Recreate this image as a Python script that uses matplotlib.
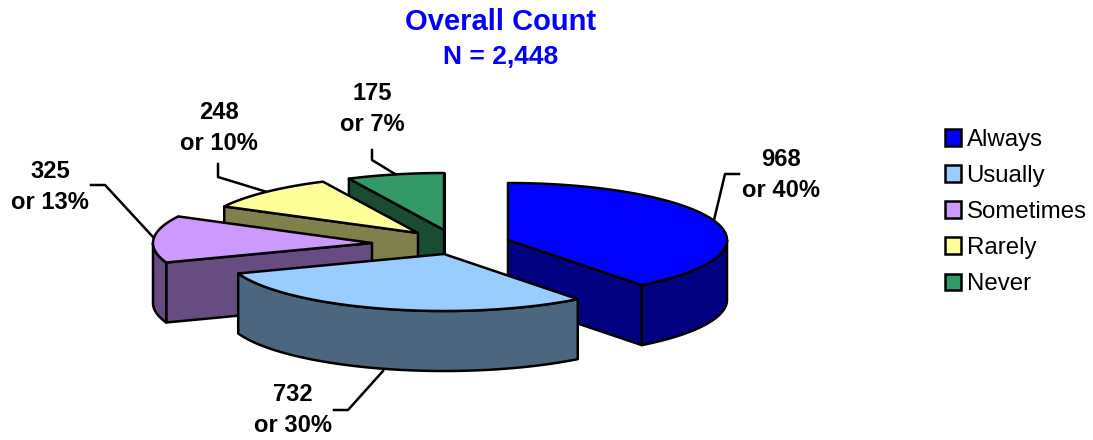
import matplotlib
matplotlib.use('Agg')
import matplotlib.pyplot as plt
from matplotlib.patches import Polygon, Patch
import numpy as np

plt.rcParams['font.family'] = ['Liberation Sans', 'DejaVu Sans']

categories = ['Always', 'Usually', 'Sometimes', 'Rarely', 'Never']
counts = [968, 732, 325, 248, 175]
percents = [40, 30, 13, 10, 7]
top_colors = ['#0000FF', '#99CCFF', '#CC99FF', '#FFFF99', '#339966']
side_colors = ['#000080', '#4D6680', '#664C80', '#80804D', '#1A4C33']

# layout in pixels: each exploded slice has its own apex
apex_x = [508, 444, 372, 418, 444]
apex_y = [240, 254, 243, 233, 230]
rx, ry = 219, 57
depth = 60
label_pos = [(781, 175), (293, 410), (50, 187), (219, 128), (372, 109)]
leaders = [
    [(714, 220), (725, 174), (739, 174)],
    [(383, 371), (348, 410), (334, 410)],
    [(153, 237), (105, 185), (91, 185)],
    [(267, 192), (218, 177), (218, 164)],
    [(395, 174), (372, 160), (372, 150)],
]

fig = plt.figure(figsize=(10.93, 4.4), dpi=100)
ax = fig.add_axes([0, 0, 1, 1])
ax.set_xlim(0, 1093)
ax.set_ylim(440, 0)
ax.axis('off')

lw = 1.8


def rim(x0, y0, a):
    a = np.radians(a)
    return np.column_stack([x0 + rx * np.sin(a), y0 - ry * np.cos(a)])


def face(pts, color, z):
    ax.add_patch(Polygon(pts, closed=True, facecolor=color, edgecolor='black',
                         linewidth=lw, joinstyle='round', zorder=z))


edges = np.concatenate([[0], np.cumsum(counts)]) / np.sum(counts) * 360
# painter's order, back slices first and the front one last
order = [4, 3, 2, 0, 1]
z = 3
for i in order:
    a0, a1 = edges[i], edges[i + 1]
    x0, y0 = apex_x[i], apex_y[i]
    apex = np.array([[x0, y0]])
    drop = np.array([0, depth])
    # only the cut faces turned towards the viewer
    walls = []
    if a0 == 0 or a0 >= 180:
        walls.append(a0)
    if a1 <= 180 or a1 == 360:
        walls.append(a1)
    for a in walls:
        p = rim(x0, y0, np.array([a]))
        face(np.vstack([apex, p, p + drop, apex + drop]), side_colors[i], z)
        z += 1
    lo, hi = max(a0, 90), min(a1, 270)
    if hi > lo:
        arc = rim(x0, y0, np.linspace(lo, hi, 80))
        face(np.vstack([arc, (arc + drop)[::-1]]), side_colors[i], z)
        z += 1
    top = rim(x0, y0, np.linspace(a0, a1, 120))
    face(np.vstack([apex, top]), top_colors[i], z)
    z += 1

for pts in leaders:
    pts = np.array(pts)
    ax.plot(pts[:, 0], pts[:, 1], color='black', lw=lw, zorder=2)

for i in range(len(categories)):
    ax.text(label_pos[i][0], label_pos[i][1], f'{counts[i]}\nor {percents[i]}%',
            ha='center', va='center', fontsize=17.1, fontweight='bold',
            linespacing=1.43, color='black')

ax.text(501, 22, 'Overall Count', ha='center', va='center', fontsize=21,
        fontweight='bold', color='#0000FF')
ax.text(501, 57, 'N = 2,448', ha='center', va='center', fontsize=19,
        fontweight='bold', color='#0000FF')

handles = [Patch(facecolor=c, edgecolor='black', linewidth=lw) for c in top_colors]
ax.legend(handles, categories, loc='upper left', bbox_to_anchor=(945, 129),
          bbox_transform=ax.transData, frameon=False, fontsize=17.3,
          handlelength=0.68, handleheight=0.68, handletextpad=0.22,
          labelspacing=0.585, borderpad=0, borderaxespad=0)

fig.savefig('out.png', dpi=100)
